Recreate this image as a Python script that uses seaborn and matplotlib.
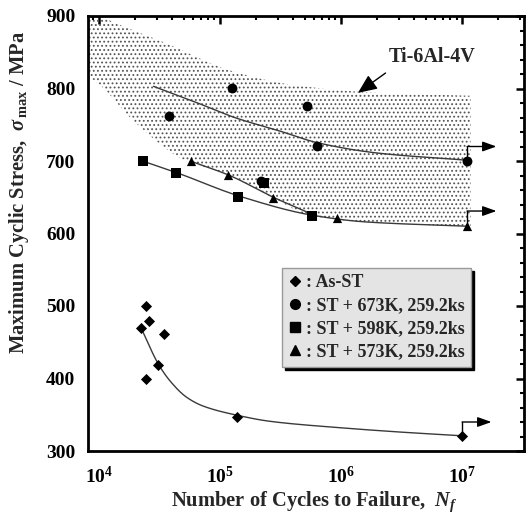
import numpy as np
import matplotlib
matplotlib.use("Agg")
import matplotlib.pyplot as plt
import seaborn as sns
from matplotlib.lines import Line2D
from matplotlib.ticker import FixedLocator, FixedFormatter, LogLocator, NullFormatter, MultipleLocator

# ---- measured S-N data -------------------------------------------------
as_st_N = [2.22e4, 2.44e4, 2.59e4, 3.45e4, 3.08e4, 2.44e4, 1.38e5, 1.0e7]
as_st_S = [469, 500, 480, 461, 419, 400, 347, 321]

st673_N = [3.78e4, 1.25e5, 2.20e5, 5.24e5, 6.30e5, 1.1e7]
st673_S = [762, 801, 673, 776, 721, 700]

st598_N = [2.31e4, 4.33e4, 1.41e5, 2.30e5, 5.75e5]
st598_S = [700, 683, 650, 669, 624]

st573_N = [5.75e4, 1.16e5, 2.74e5, 9.27e5, 1.1e7]
st573_S = [700, 681, 649, 621, 611]

# ---- fitted trend curves (log10 N, stress) ------------------------------
fit673_logN = [4.45, 4.80, 5.12, 5.50, 5.81, 6.30, 7.05]
fit673_S = [803, 781, 760, 741, 725, 711, 701]
fit598_logN = [4.36, 4.64, 5.17, 5.77, 6.20, 7.05]
fit598_S = [700, 684, 651, 625, 616, 610]
fit573_logN = [4.77, 5.08, 5.44, 5.77]
fit573_S = [699, 680, 650, 626]
fitAs_logN = [4.35, 4.49, 4.59, 4.725, 4.86, 5.15, 5.41, 6.0, 6.5, 7.0]
fitAs_S = [469, 420, 396, 374, 362, 349, 341, 332, 326, 321]

# ---- Ti-6Al-4V scatter band ---------------------------------------------
band_up_logN = [3.90, 4.0, 4.56, 5.1, 5.6, 6.3, 7.07]
band_up_S = [911, 901, 862, 824, 805, 794, 790]
band_lo_logN = [3.90, 4.0, 4.3, 4.71, 5.07, 5.44, 5.76, 6.1, 7.07]
band_lo_S = [818, 806, 753, 701, 681, 649, 624, 617, 609]

legend_labels = [": As-ST", ": ST + 673K, 259.2ks", ": ST + 598K, 259.2ks", ": ST + 573K, 259.2ks"]
y_ticks = [300, 400, 500, 600, 700, 800, 900]
x_ticks = [1e4, 1e5, 1e6, 1e7]
x_tick_labels = [r"$\mathbf{10^{4}}$", r"$\mathbf{10^{5}}$", r"$\mathbf{10^{6}}$", r"$\mathbf{10^{7}}$"]


def pchip(xk, yk, xq):
    """Shape-preserving cubic through the given nodes."""
    xk = np.asarray(xk, float)
    yk = np.asarray(yk, float)
    h = np.diff(xk)
    d = np.diff(yk) / h
    m = np.zeros_like(yk)
    for i in range(1, len(xk) - 1):
        if d[i - 1] * d[i] > 0:
            w1 = 2 * h[i] + h[i - 1]
            w2 = h[i] + 2 * h[i - 1]
            m[i] = (w1 + w2) / (w1 / d[i - 1] + w2 / d[i])
    m[0] = d[0]
    m[-1] = d[-1]
    idx = np.clip(np.searchsorted(xk, xq) - 1, 0, len(h) - 1)
    t = (xq - xk[idx]) / h[idx]
    h00 = 2 * t**3 - 3 * t**2 + 1
    h10 = t**3 - 2 * t**2 + t
    h01 = -2 * t**3 + 3 * t**2
    h11 = t**3 - t**2
    return h00 * yk[idx] + h10 * h[idx] * m[idx] + h01 * yk[idx + 1] + h11 * h[idx] * m[idx + 1]


sns.set_theme(style="white")
plt.rcParams.update({
    "font.family": ["Liberation Serif", "DejaVu Serif"],
    "font.weight": "bold",
    "mathtext.fontset": "custom",
    "mathtext.rm": "Liberation Serif:bold",
    "mathtext.it": "Liberation Serif:italic:bold",
    "mathtext.bf": "Liberation Serif:bold",
    "hatch.color": "#555555",
    "hatch.linewidth": 0.8,
})

W, H = 526, 519
fig = plt.figure(figsize=(W / 100, H / 100), dpi=100)
ax = fig.add_axes([88 / W, 1 - 451 / H, (524 - 88) / W, (451 - 16) / H])
ax.set_xscale("log")
ax.set_xlim(10**3.909, 10**7.512)
ax.set_ylim(300, 900)

# stippled scatter band
g = np.linspace(3.90, 7.07, 300)
ax.fill_between(10**g, pchip(band_lo_logN, band_lo_S, g), pchip(band_up_logN, band_up_S, g),
                facecolor="none", edgecolor="#555555", hatch="....", linewidth=0, zorder=1)

# trend curves
for lx, ly in [(fit673_logN, fit673_S), (fit598_logN, fit598_S),
               (fit573_logN, fit573_S), (fitAs_logN, fitAs_S)]:
    q = np.linspace(lx[0], lx[-1], 200)
    sns.lineplot(x=10**q, y=pchip(lx, ly, q), ax=ax, color="#3a3a3a", lw=1.0, sort=False, zorder=2)

# data points
sns.scatterplot(x=as_st_N, y=as_st_S, ax=ax, marker="D", s=32, color="black", linewidth=0, zorder=4)
sns.scatterplot(x=st673_N, y=st673_S, ax=ax, marker="o", s=50, color="black", linewidth=0, zorder=4)
sns.scatterplot(x=st598_N, y=st598_S, ax=ax, marker="s", s=44, color="black", linewidth=0, zorder=4)
sns.scatterplot(x=st573_N, y=st573_S, ax=ax, marker="^", s=44, color="black", linewidth=0, zorder=4)

# run-out arrows on the unbroken specimens
for n, s, rise, reach in [(st673_N[-1], st673_S[-1], 20, 1.75), (st573_N[-1], st573_S[-1], 20, 1.75),
                          (as_st_N[-1], as_st_S[-1], 19, 1.75)]:
    ax.plot([n, n], [s, s + rise], color="black", lw=1.0, zorder=3)
    ax.annotate("", xy=(n * reach, s + rise), xytext=(n, s + rise),
                arrowprops=dict(arrowstyle="-|>,head_length=0.7,head_width=0.25",
                                color="black", lw=1.0, shrinkA=0, shrinkB=0), zorder=3)

ax.annotate("Ti-6Al-4V", xy=(1.38e6, 794), xytext=(5.7e6, 843), ha="center", va="center",
            fontsize=14.5, fontweight="bold",
            arrowprops=dict(arrowstyle="-|>,head_length=0.8,head_width=0.35", color="black",
                            lw=1.0, shrinkA=3, shrinkB=0, relpos=(0.05, 0.0)))

# axes styling
for sp in ax.spines.values():
    sp.set_linewidth(2.0)
    sp.set_color("black")
ax.yaxis.set_major_locator(FixedLocator(y_ticks))
ax.yaxis.set_minor_locator(MultipleLocator(20))
ax.xaxis.set_major_locator(FixedLocator(x_ticks))
ax.xaxis.set_major_formatter(FixedFormatter(x_tick_labels))
ax.xaxis.set_minor_locator(LogLocator(base=10, subs=np.arange(2, 10)))
ax.xaxis.set_minor_formatter(NullFormatter())
ax.tick_params(which="both", direction="in", top=True, right=True, colors="black")
ax.tick_params(which="major", length=6, width=1.8, labelsize=14)
ax.tick_params(which="minor", length=3, width=1.5)
ax.tick_params(axis="y", which="major", pad=9)
ax.tick_params(axis="x", which="major", pad=11)
for lab in ax.get_yticklabels():
    lab.set_fontweight("bold")

ax.set_ylabel(r"Maximum Cyclic Stress,  $\mathit{\sigma}_{\,\mathrm{max}}$ / MPa", fontsize=14.8, fontweight="bold")
ax.set_xlabel(r"Number of Cycles to Failure,  $\mathit{N_f}$", fontsize=14.8, fontweight="bold")
ax.yaxis.set_label_coords(-0.13, 0.595)
ax.xaxis.set_label_coords(0.518, -0.088)

handles = [Line2D([], [], ls="none", marker=m, color="black", markersize=ms)
           for m, ms in [("D", 5.5), ("o", 7), ("s", 6.5), ("^", 7)]]
leg = ax.legend(handles, legend_labels, loc="upper left", bbox_to_anchor=(0.445, 0.421),
                borderaxespad=0, frameon=True, fancybox=False, framealpha=1,
                facecolor="#e4e4e4", edgecolor="#9a9a9a", fontsize=13.0,
                handlelength=0.7, handletextpad=0.3, labelspacing=0.34, borderpad=0.35,
                shadow={"color": "black", "alpha": 1})
for t in leg.get_texts():
    t.set_fontweight("bold")

fig.savefig("out.png", dpi=100)
